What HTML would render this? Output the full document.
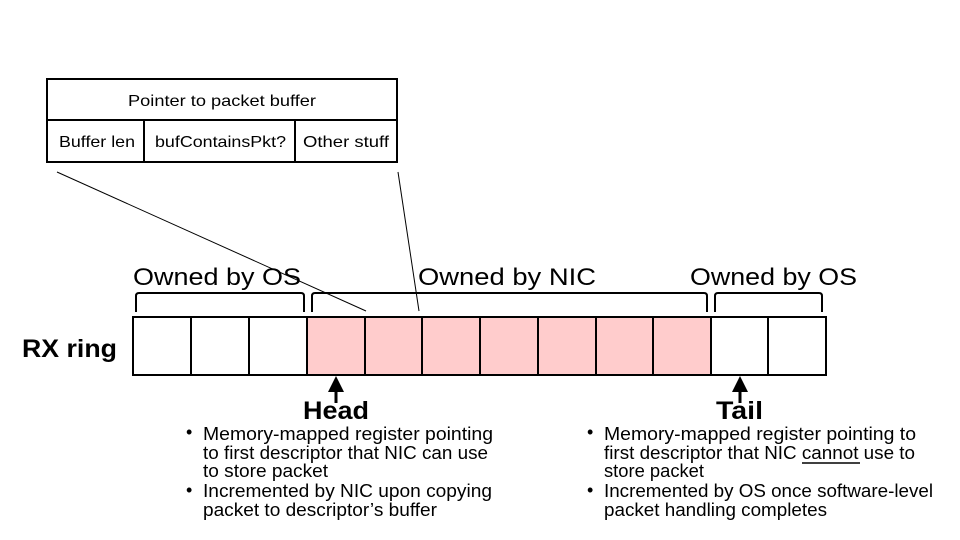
<!DOCTYPE html>
<html><head><meta charset="utf-8"><style>
html,body{margin:0;padding:0;background:#fff;width:960px;height:540px;overflow:hidden}
svg{display:block;font-family:"Liberation Sans",sans-serif}
</style></head><body>
<svg width="960" height="540" viewBox="0 0 960 540" xmlns="http://www.w3.org/2000/svg">
<g fill="none" stroke="#000" stroke-width="2">
<rect x="47" y="79" width="350" height="41"/>
<rect x="47" y="120" width="350" height="42"/>
<line x1="144" y1="120" x2="144" y2="162"/>
<line x1="295" y1="120" x2="295" y2="162"/>
</g>
<g font-size="16" fill="#000">
<text x="222" y="106" text-anchor="middle" textLength="188" lengthAdjust="spacingAndGlyphs">Pointer to packet buffer</text>
<text x="59" y="147" textLength="76" lengthAdjust="spacingAndGlyphs">Buffer len</text>
<text x="155" y="147" textLength="131" lengthAdjust="spacingAndGlyphs">bufContainsPkt?</text>
<text x="303" y="147" textLength="86" lengthAdjust="spacingAndGlyphs">Other stuff</text>
</g>
<line x1="57" y1="172" x2="366" y2="311" stroke="#000" stroke-width="1"/>
<line x1="398" y1="172" x2="419" y2="311" stroke="#000" stroke-width="1"/>
<g font-size="24" fill="#000">
<text x="133" y="285" textLength="168" lengthAdjust="spacingAndGlyphs">Owned by OS</text>
<text x="418" y="285" textLength="178" lengthAdjust="spacingAndGlyphs">Owned by NIC</text>
<text x="690" y="285" textLength="167" lengthAdjust="spacingAndGlyphs">Owned by OS</text>
</g>
<g fill="none" stroke="#000" stroke-width="2">
<path d="M136 312 V296 Q136 293 139 293 H301 Q304 293 304 296 V312"/>
<path d="M312 312 V296 Q312 293 315 293 H704 Q707 293 707 296 V312"/>
<path d="M715 312 V296 Q715 293 718 293 H819 Q822 293 822 296 V312"/>
</g>
<rect x="307" y="317" width="404" height="58" fill="#ffcccc"/>
<g fill="none" stroke="#000" stroke-width="2">
<rect x="133" y="317" width="693" height="58"/>
<line x1="191" y1="317" x2="191" y2="375"/>
<line x1="249" y1="317" x2="249" y2="375"/>
<line x1="307" y1="317" x2="307" y2="375"/>
<line x1="365" y1="317" x2="365" y2="375"/>
<line x1="422" y1="317" x2="422" y2="375"/>
<line x1="480" y1="317" x2="480" y2="375"/>
<line x1="538" y1="317" x2="538" y2="375"/>
<line x1="596" y1="317" x2="596" y2="375"/>
<line x1="653" y1="317" x2="653" y2="375"/>
<line x1="711" y1="317" x2="711" y2="375"/>
<line x1="768" y1="317" x2="768" y2="375"/>
</g>
<text x="22" y="357" font-size="25" font-weight="bold" textLength="95" lengthAdjust="spacingAndGlyphs">RX ring</text>
<g fill="#000" stroke="#000">
<line x1="336" y1="388" x2="336" y2="403" stroke-width="3"/>
<polygon points="336,376 328,392 344,392" stroke="none"/>
<line x1="740" y1="388" x2="740" y2="403" stroke-width="3"/>
<polygon points="740,376 732,392 748,392" stroke="none"/>
</g>
<g font-size="25" font-weight="bold">
<text x="303" y="419" textLength="66" lengthAdjust="spacingAndGlyphs">Head</text>
<text x="716" y="419" textLength="47" lengthAdjust="spacingAndGlyphs">Tail</text>
</g>
<g font-size="18" fill="#000">
<text x="186" y="438">•</text>
<text x="203" y="440" textLength="290" lengthAdjust="spacingAndGlyphs">Memory-mapped register pointing</text>
<text x="203" y="459" textLength="285" lengthAdjust="spacingAndGlyphs">to first descriptor that NIC can use</text>
<text x="203" y="477" textLength="125" lengthAdjust="spacingAndGlyphs">to store packet</text>
<text x="186" y="496">•</text>
<text x="203" y="497" textLength="289" lengthAdjust="spacingAndGlyphs">Incremented by NIC upon copying</text>
<text x="203" y="516" textLength="234" lengthAdjust="spacingAndGlyphs">packet to descriptor’s buffer</text>
<text x="587" y="438">•</text>
<text x="604" y="440" textLength="312" lengthAdjust="spacingAndGlyphs">Memory-mapped register pointing to</text>
<text x="604" y="459" textLength="311" lengthAdjust="spacingAndGlyphs">first descriptor that NIC cannot use to</text>
<line x1="802" y1="463" x2="860" y2="463" stroke="#000" stroke-width="1.5"/>
<text x="604" y="477" textLength="100" lengthAdjust="spacingAndGlyphs">store packet</text>
<text x="587" y="496">•</text>
<text x="604" y="497" textLength="329" lengthAdjust="spacingAndGlyphs">Incremented by OS once software-level</text>
<text x="604" y="516" textLength="223" lengthAdjust="spacingAndGlyphs">packet handling completes</text>
</g>
</svg>
</body></html>
